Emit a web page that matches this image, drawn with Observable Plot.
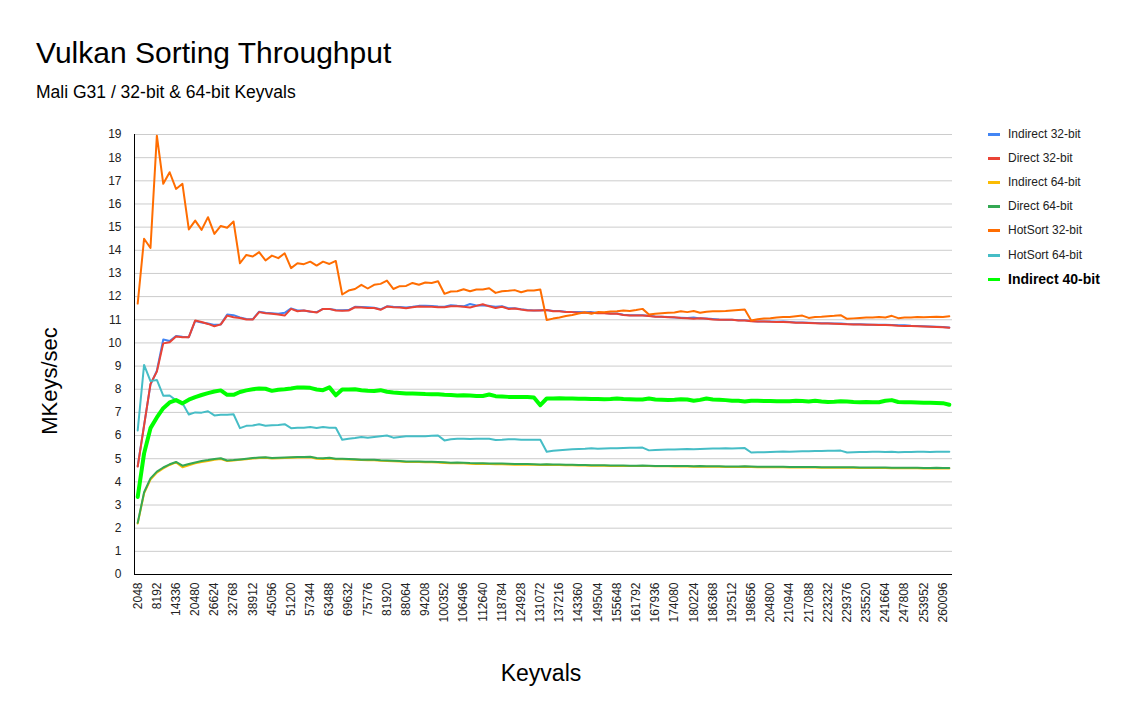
<!DOCTYPE html>
<html>
<head>
<meta charset="utf-8">
<script src="https://cdn.jsdelivr.net/npm/d3@7"></script>
<script src="https://cdn.jsdelivr.net/npm/@observablehq/plot@0.6"></script>
<style>
  html, body { margin: 0; padding: 0; background: #fff; }
  body { font-family: "Liberation Sans", Arial, sans-serif; }
  #wrap { position: relative; width: 1139px; height: 723px; overflow: hidden; }
  #head { position: relative; height: 110px; }
  #title { position: absolute; left: 36px; top: 38px; font-size: 30px; line-height: 30px; color: #000; white-space: nowrap; }
  #subtitle { position: absolute; left: 36px; top: 83px; font-size: 17.5px; line-height: 18px; color: #000; white-space: nowrap; }
  #chart svg { display: block; }
  #legend { position: absolute; left: 988px; top: 0; }
  .item { position: absolute; left: 0; white-space: nowrap; height: 16px; }
  .sw { position: absolute; left: 0; top: 7px; width: 12px; height: 3px; }
  .lab { position: absolute; left: 20px; top: 0; font-size: 12px; line-height: 16px; color: #222; }
  .lab.bold { font-weight: bold; font-size: 14px; color: #000; }
  .ytitle { position: absolute; left: 50px; top: 381px; font-size: 22px; line-height: 22px; color: #000; white-space: nowrap;
            transform: translate(-50%, -50%) rotate(-90deg); }
  .xtitle { position: absolute; left: 541px; top: 673px; font-size: 23px; line-height: 23px; color: #000; white-space: nowrap;
            transform: translate(-50%, -50%); }
</style>
</head>
<body>
<div id="wrap">
  <div id="head">
    <div id="title">Vulkan Sorting Throughput</div>
    <div id="subtitle">Mali G31 / 32-bit &amp; 64-bit Keyvals</div>
  </div>
  <div id="chart"></div>
  <div id="legend"></div>
  <div class="ytitle" id="ytitle"></div>
  <div class="xtitle" id="xtitle"></div>
</div>
<script>
// Categories (keyvals)
const keyvals = [2048,4096,6144,8192,10240,12288,14336,16384,18432,20480,22528,24576,26624,28672,30720,32768,
34816,36864,38912,40960,43008,45056,47104,49152,51200,53248,55296,57344,59392,61440,63488,65536,
67584,69632,71680,73728,75776,77824,79872,81920,83968,86016,88064,90112,92160,94208,96256,98304,
100352,102400,104448,106496,108544,110592,112640,114688,116736,118784,120832,122880,124928,126976,129024,131072,
133120,135168,137216,139264,141312,143360,145408,147456,149504,151552,153600,155648,157696,159744,161792,163840,
165888,167936,169984,172032,174080,176128,178176,180224,182272,184320,186368,188416,190464,192512,194560,196608,
198656,200704,202752,204800,206848,208896,210944,212992,215040,217088,219136,221184,223232,225280,227328,229376,
231424,233472,235520,237568,239616,241664,243712,245760,247808,249856,251904,253952,256000,258048,260096,262144];

const indirect32 = [4.68,6.45,8.2,8.8,10.15,10.08,10.3,10.27,10.25,10.95,
10.88,10.84,10.78,10.8,11.23,11.2,11.1,11.03,11.02,11.35,
11.3,11.28,11.26,11.3,11.49,11.4,11.4,11.35,11.33,11.47,
11.46,11.42,11.41,11.42,11.56,11.55,11.54,11.52,11.45,11.58,
11.56,11.55,11.53,11.56,11.6,11.6,11.59,11.57,11.56,11.63,
11.6,11.58,11.68,11.62,11.62,11.6,11.56,11.58,11.5,11.5,
11.45,11.42,11.4,11.41,11.42,11.38,11.38,11.35,11.34,11.33,
11.32,11.33,11.3,11.29,11.27,11.27,11.22,11.2,11.2,11.19,
11.17,11.14,11.13,11.12,11.1,11.09,11.08,11.1,11.06,11.05,
11.03,11.01,11.0,11.0,10.98,10.98,10.95,10.93,10.93,10.92,
10.91,10.92,10.9,10.88,10.88,10.87,10.86,10.85,10.85,10.84,
10.84,10.82,10.81,10.81,10.8,10.79,10.78,10.78,10.77,10.76,
10.76,10.74,10.73,10.72,10.71,10.7,10.69,10.67];

const direct32 = [4.66,6.43,8.23,8.76,9.98,10.03,10.28,10.25,10.25,10.97,
10.9,10.82,10.72,10.8,11.18,11.11,11.08,11.01,11.01,11.33,
11.28,11.26,11.23,11.18,11.47,11.37,11.4,11.36,11.31,11.47,
11.47,11.4,11.39,11.4,11.54,11.53,11.51,11.51,11.43,11.57,
11.54,11.53,11.5,11.54,11.57,11.56,11.56,11.54,11.54,11.58,
11.58,11.56,11.53,11.6,11.67,11.58,11.51,11.56,11.47,11.49,
11.44,11.4,11.4,11.4,11.42,11.37,11.37,11.33,11.33,11.3,
11.3,11.3,11.28,11.28,11.26,11.26,11.21,11.18,11.18,11.18,
11.16,11.13,11.13,11.11,11.11,11.08,11.07,11.04,11.07,11.04,
11.01,11.0,11.0,11.0,10.97,10.97,10.94,10.92,10.93,10.91,
10.9,10.9,10.89,10.87,10.87,10.86,10.85,10.84,10.84,10.83,
10.82,10.81,10.8,10.8,10.79,10.78,10.77,10.77,10.76,10.74,
10.73,10.73,10.72,10.71,10.7,10.69,10.68,10.66];

const indirect64 = [2.2,3.5,4.1,4.4,4.58,4.73,4.84,4.63,4.72,4.8,
4.86,4.9,4.95,4.99,4.9,4.92,4.95,4.98,5.01,5.03,
5.04,5.01,5.02,5.03,5.04,5.05,5.05,5.06,5.0,4.99,
5.01,4.98,4.98,4.97,4.96,4.94,4.93,4.93,4.91,4.9,
4.89,4.88,4.86,4.86,4.86,4.85,4.85,4.84,4.82,4.8,
4.81,4.8,4.78,4.77,4.78,4.77,4.76,4.76,4.75,4.74,
4.74,4.74,4.74,4.73,4.74,4.73,4.73,4.72,4.72,4.71,
4.71,4.7,4.7,4.7,4.69,4.69,4.69,4.68,4.68,4.69,
4.68,4.67,4.67,4.67,4.66,4.66,4.66,4.65,4.66,4.65,
4.65,4.65,4.64,4.64,4.64,4.65,4.64,4.63,4.63,4.63,
4.63,4.63,4.62,4.62,4.62,4.62,4.62,4.61,4.61,4.61,
4.61,4.61,4.61,4.6,4.6,4.6,4.6,4.6,4.59,4.59,
4.59,4.59,4.59,4.58,4.58,4.59,4.58,4.58];

const direct64 = [2.23,3.55,4.15,4.44,4.62,4.76,4.86,4.7,4.77,4.84,
4.9,4.94,4.99,5.02,4.92,4.94,4.97,5.0,5.03,5.05,
5.06,5.03,5.04,5.05,5.06,5.07,5.07,5.08,5.03,5.02,
5.04,5.0,5.0,4.99,4.98,4.96,4.95,4.95,4.93,4.92,
4.91,4.9,4.88,4.88,4.88,4.87,4.87,4.86,4.85,4.83,
4.84,4.83,4.81,4.8,4.8,4.79,4.79,4.79,4.78,4.77,
4.77,4.77,4.76,4.75,4.76,4.75,4.75,4.74,4.74,4.73,
4.73,4.72,4.72,4.72,4.71,4.71,4.71,4.7,4.7,4.71,
4.7,4.69,4.69,4.69,4.68,4.68,4.68,4.67,4.68,4.67,
4.67,4.67,4.66,4.66,4.66,4.67,4.66,4.65,4.65,4.65,
4.65,4.65,4.64,4.64,4.64,4.64,4.64,4.63,4.63,4.63,
4.63,4.63,4.63,4.62,4.62,4.62,4.62,4.62,4.61,4.61,
4.61,4.61,4.61,4.6,4.6,4.61,4.6,4.6];

const hotsort32 = [11.7,14.5,14.1,18.95,16.87,17.37,16.65,16.87,14.9,15.28,
14.88,15.43,14.71,15.05,14.97,15.24,13.44,13.8,13.73,13.92,
13.56,13.77,13.66,13.87,13.23,13.44,13.4,13.51,13.34,13.51,
13.41,13.54,12.09,12.26,12.33,12.51,12.35,12.51,12.55,12.69,
12.33,12.45,12.46,12.59,12.51,12.61,12.59,12.66,12.12,12.22,
12.23,12.32,12.23,12.31,12.31,12.36,12.16,12.23,12.25,12.28,
12.19,12.26,12.26,12.31,10.99,11.05,11.1,11.16,11.21,11.27,
11.32,11.26,11.33,11.32,11.36,11.37,11.4,11.38,11.42,11.47,
11.23,11.26,11.28,11.3,11.31,11.37,11.33,11.38,11.3,11.35,
11.37,11.37,11.38,11.4,11.42,11.44,10.97,11.02,11.05,11.07,
11.1,11.12,11.12,11.15,11.18,11.08,11.12,11.13,11.15,11.17,
11.2,11.04,11.06,11.08,11.1,11.1,11.12,11.1,11.17,11.07,
11.1,11.1,11.12,11.11,11.12,11.13,11.12,11.15];

const hotsort64 = [6.22,9.05,8.35,8.4,7.72,7.73,7.52,7.4,6.91,7.0,
6.99,7.05,6.87,6.9,6.9,6.92,6.32,6.42,6.43,6.49,
6.42,6.45,6.46,6.49,6.32,6.34,6.34,6.37,6.33,6.37,
6.34,6.34,5.82,5.86,5.89,5.94,5.91,5.94,5.97,6.0,
5.91,5.94,5.97,5.97,5.97,5.97,5.99,6.0,5.79,5.84,
5.86,5.86,5.85,5.86,5.86,5.86,5.81,5.82,5.84,5.84,
5.82,5.82,5.82,5.82,5.3,5.34,5.37,5.39,5.41,5.42,
5.43,5.45,5.43,5.44,5.45,5.45,5.46,5.47,5.47,5.48,
5.36,5.38,5.39,5.4,5.4,5.41,5.42,5.41,5.42,5.43,
5.44,5.44,5.45,5.44,5.45,5.46,5.27,5.28,5.28,5.29,
5.3,5.31,5.3,5.31,5.32,5.32,5.33,5.33,5.34,5.34,
5.35,5.27,5.28,5.29,5.29,5.3,5.3,5.29,5.3,5.28,
5.29,5.29,5.3,5.3,5.29,5.3,5.3,5.3];

const indirect40 = [3.35,5.23,6.32,6.78,7.18,7.43,7.53,7.39,7.55,7.66,
7.75,7.83,7.9,7.95,7.76,7.76,7.88,7.95,8.0,8.03,
8.02,7.93,7.98,8.0,8.03,8.08,8.08,8.06,7.99,7.96,
8.08,7.74,7.99,7.99,8.0,7.96,7.93,7.92,7.96,7.89,
7.86,7.84,7.82,7.82,7.81,7.79,7.78,7.78,7.76,7.75,
7.73,7.74,7.73,7.71,7.71,7.77,7.7,7.69,7.67,7.67,
7.66,7.66,7.64,7.31,7.6,7.6,7.61,7.6,7.6,7.59,
7.59,7.58,7.58,7.57,7.58,7.6,7.58,7.57,7.56,7.56,
7.6,7.56,7.55,7.54,7.55,7.57,7.56,7.5,7.54,7.6,
7.56,7.55,7.53,7.5,7.5,7.47,7.5,7.5,7.49,7.49,
7.48,7.48,7.48,7.5,7.49,7.47,7.5,7.47,7.45,7.46,
7.48,7.47,7.45,7.44,7.45,7.44,7.44,7.5,7.53,7.45,
7.44,7.44,7.43,7.42,7.42,7.41,7.4,7.33];

const seriesNames = ["Indirect 32-bit","Direct 32-bit","Indirect 64-bit","Direct 64-bit","HotSort 32-bit","HotSort 64-bit","Indirect 40-bit"];
const seriesColors = ["#4285f4","#ea4335","#fbbc04","#34a853","#ff6d01","#46bdc6","#00ff00"];
const seriesValues = [indirect32, direct32, indirect64, direct64, hotsort32, hotsort64, indirect40];
const yTicks = [0,1,2,3,4,5,6,7,8,9,10,11,12,13,14,15,16,17,18,19];
const xTickLabels = keyvals.filter((d, i) => i % 3 === 0);
const yTitle = "MKeys/sec";
const xTitle = "Keyvals";

const rows = seriesNames.flatMap((name, k) =>
  keyvals.map((kv, i) => ({series: name, keyvals: kv, value: seriesValues[k][i]})));

const lineMarks = seriesNames.map((name, k) =>
  Plot.line(rows.filter(r => r.series === name), {
    x: "keyvals", y: "value",
    stroke: seriesColors[k],
    strokeWidth: name === "Indirect 40-bit" ? 4 : 2,
    strokeLinejoin: "round", strokeLinecap: "round"
  }));

const chart = Plot.plot({
  width: 1139,
  height: 613,
  marginTop: 24,
  marginBottom: 149,
  marginLeft: 134,
  marginRight: 187,
  style: {fontFamily: "'Liberation Sans', Arial, sans-serif", fontSize: "12px", color: "#222", background: "#fff", overflow: "visible"},
  x: {domain: [1024, 263168], label: null},
  y: {domain: [0, 19], label: null},
  marks: [
    Plot.gridY(yTicks, {stroke: "#cccccc", strokeOpacity: 1}),
    Plot.axisY(yTicks, {tickSize: 0, tickPadding: 13, label: null, fontSize: 12}),
    Plot.axisX(xTickLabels, {tickSize: 0, tickPadding: 8, tickRotate: -90, tickFormat: d => String(d), label: null, fontSize: 12}),
    ...lineMarks,
    Plot.ruleX([1024], {stroke: "#000", strokeWidth: 1}),
    Plot.ruleY([0], {stroke: "#000", strokeWidth: 1})
  ]
});
document.getElementById("chart").appendChild(chart);
document.getElementById("ytitle").textContent = yTitle;
document.getElementById("xtitle").textContent = xTitle;

// Legend
const legend = document.getElementById("legend");
const rowY = [134, 158, 182, 206, 230, 255, 279];
seriesNames.forEach((name, k) => {
  const item = document.createElement("div");
  item.className = "item";
  item.style.top = (rowY[k] - 8) + "px";
  const sw = document.createElement("div");
  sw.className = "sw";
  sw.style.background = seriesColors[k];
  const lab = document.createElement("div");
  lab.className = "lab" + (name === "Indirect 40-bit" ? " bold" : "");
  lab.textContent = name;
  item.appendChild(sw);
  item.appendChild(lab);
  legend.appendChild(item);
});
</script>
</body>
</html>
